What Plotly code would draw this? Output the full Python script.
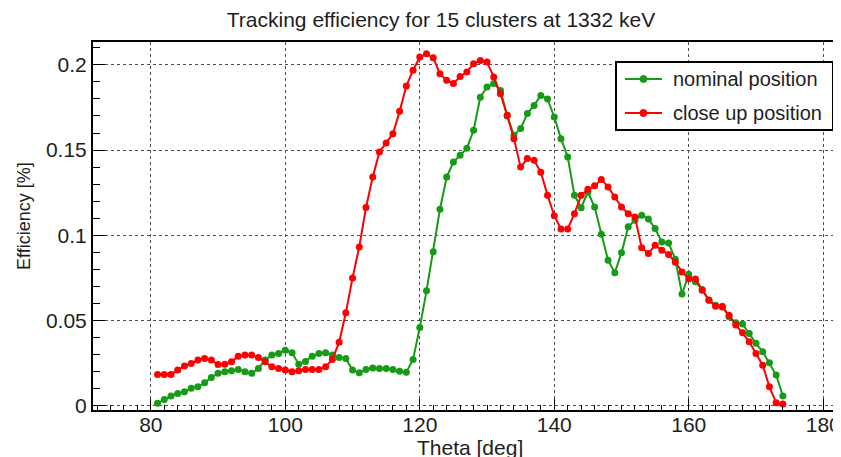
import plotly.graph_objects as go

theta = list(range(81, 175))

nominal = [
    0.0014, 0.0037, 0.0057, 0.0072, 0.0082, 0.0102, 0.0111, 0.0135, 0.0166, 0.0190,  # 81-90
    0.0200, 0.0205, 0.0213, 0.0200, 0.0190, 0.0219, 0.0268, 0.0297, 0.0307, 0.0326,  # 91-100
    0.0311, 0.0244, 0.0260, 0.0290, 0.0307, 0.0311, 0.0297, 0.0283, 0.0277, 0.0209,  # 101-110
    0.0193, 0.0213, 0.0222, 0.0219, 0.0219, 0.0213, 0.0203, 0.0197, 0.0272, 0.0459,  # 111-120
    0.0674, 0.0903, 0.1153, 0.1342, 0.1430, 0.1470, 0.1510, 0.1616, 0.1810, 0.1870,  # 121-130
    0.1890, 0.1850, 0.1700, 0.1587, 0.1626, 0.1714, 0.1762, 0.1820, 0.1800, 0.1694,  # 131-140
    0.1567, 0.1460, 0.1235, 0.1162, 0.1254, 0.1166, 0.1006, 0.0854, 0.0780, 0.0897,  # 141-150
    0.1050, 0.1088, 0.1118, 0.1095, 0.1040, 0.0960, 0.0955, 0.0860, 0.0655, 0.0772,  # 151-160
    0.0727, 0.0682, 0.0620, 0.0590, 0.0584, 0.0522, 0.0487, 0.0479, 0.0424, 0.0366,  # 161-170
    0.0317, 0.0252, 0.0180, 0.0057,                                                  # 171-174
]

close_up = [
    0.0184, 0.0184, 0.0184, 0.0210, 0.0233, 0.0248, 0.0268, 0.0277, 0.0268, 0.0242,  # 81-90
    0.0244, 0.0258, 0.0291, 0.0297, 0.0297, 0.0283, 0.0258, 0.0229, 0.0219, 0.0209,  # 91-100
    0.0199, 0.0205, 0.0213, 0.0213, 0.0213, 0.0229, 0.0272, 0.0372, 0.0545, 0.0750,  # 101-110
    0.0932, 0.1163, 0.1342, 0.1489, 0.1542, 0.1596, 0.1727, 0.1876, 0.1968, 0.2046,  # 111-120
    0.2065, 0.2042, 0.1948, 0.1909, 0.1890, 0.1932, 0.1958, 0.2007, 0.2026, 0.2016,  # 121-130
    0.1929, 0.1830, 0.1704, 0.1567, 0.1400, 0.1450, 0.1440, 0.1370, 0.1235, 0.1115,  # 131-140
    0.1037, 0.1037, 0.1127, 0.1235, 0.1270, 0.1290, 0.1328, 0.1284, 0.1225, 0.1166,  # 141-150
    0.1127, 0.1108, 0.0927, 0.0893, 0.0942, 0.0912, 0.0888, 0.0842, 0.0785, 0.0743,  # 151-160
    0.0743, 0.0678, 0.0619, 0.0584, 0.0580, 0.0531, 0.0473, 0.0428, 0.0375, 0.0307,  # 161-170
    0.0238, 0.0111, 0.0018, 0.0010,                                                  # 171-174
]

series_names = ["nominal position", "close up position"]
x_ticks = [80, 100, 120, 140, 160, 180]
y_ticks = [0, 0.05, 0.1, 0.15, 0.2]
y_tick_labels = ["0", "0.05", "0.1", "0.15", "0.2"]

GREEN = "rgb(22,155,22)"
RED = "rgb(255,0,0)"
TXT = "rgb(30,30,30)"
FONT = "Liberation Sans, Arial, Helvetica, sans-serif"

# The page body has an 8px margin; size the figure so the whole thing fits the 841x457 window.
FIG_W, FIG_H = 833, 449
OFF = 8
PLOT_L, PLOT_R, PLOT_T, PLOT_B = 93, 836, 42, 410   # plot frame in window pixels


def px(xw):
    return (xw - PLOT_L) / (PLOT_R - PLOT_L)


def py(yw):
    return (PLOT_B - yw) / (PLOT_B - PLOT_T)


fig = go.Figure()
for name, vals, col in [(series_names[0], nominal, GREEN), (series_names[1], close_up, RED)]:
    fig.add_trace(go.Scatter(
        x=theta, y=vals, mode="lines+markers", name=name,
        line=dict(color=col, width=2), marker=dict(size=7, color=col),
        showlegend=False,
    ))

axis_common = dict(
    showline=True, linecolor="black", linewidth=2, mirror=True,
    showgrid=True, gridcolor="rgb(80,80,80)", gridwidth=1, griddash="dot",
    zeroline=False, ticks="inside", tickcolor="black", tickwidth=1,
    tickfont=dict(family=FONT, size=21, color=TXT),
)

fig.update_xaxes(
    range=[71.4, 181.9], tickvals=x_ticks, ticklen=11, ticklabelstandoff=-5,
    minor=dict(dtick=2, tick0=80, ticks="inside", ticklen=5, tickcolor="black", showgrid=False),
    **axis_common,
)
fig.update_yaxes(
    range=[-0.0025, 0.2134], tickvals=y_ticks, ticktext=y_tick_labels, ticklen=12,
    minor=dict(dtick=0.01, tick0=0, ticks="inside", ticklen=7, tickcolor="black", showgrid=False),
    **axis_common,
)

fig.update_layout(
    width=FIG_W, height=FIG_H,
    margin=dict(l=PLOT_L - OFF, r=FIG_W + OFF - PLOT_R, t=PLOT_T - OFF, b=FIG_H + OFF - PLOT_B,
                autoexpand=False),
    paper_bgcolor="white", plot_bgcolor="white",
    font=dict(family=FONT, color=TXT),
    title=dict(
        text="Tracking efficiency for 15 clusters at 1332 keV",
        x=(441 - OFF) / FIG_W, xanchor="center", xref="container",
        y=1 - (20 - OFF) / FIG_H, yanchor="middle", yref="container",
        font=dict(family=FONT, size=21, color=TXT),
    ),
    showlegend=False,
)

# axis titles
fig.add_annotation(
    text="Theta [deg]", xref="paper", yref="paper",
    x=px(470), y=py(447), xanchor="center", yanchor="middle",
    showarrow=False, font=dict(family=FONT, size=21, color=TXT),
)
fig.add_annotation(
    text="Efficiency [%]", xref="paper", yref="paper",
    x=px(24), y=py(216), xanchor="center", yanchor="middle",
    textangle=-90, showarrow=False, font=dict(family=FONT, size=18, color=TXT),
)

# legend box (drawn like the ROOT TLegend)
fig.add_shape(type="rect", xref="paper", yref="paper",
              x0=px(616), x1=px(833), y0=py(130), y1=py(62),
              line=dict(color="black", width=2), fillcolor="white", layer="above")
for row_y, name, col in [(79, series_names[0], GREEN), (113, series_names[1], RED)]:
    fig.add_shape(type="line", xref="paper", yref="paper",
                  x0=px(625), x1=px(662), y0=py(row_y), y1=py(row_y),
                  line=dict(color=col, width=2), layer="above")
    fig.add_shape(type="circle", xref="paper", yref="paper",
                  xsizemode="pixel", ysizemode="pixel",
                  xanchor=px(643.5), yanchor=py(row_y),
                  x0=-3.5, x1=3.5, y0=-3.5, y1=3.5,
                  line=dict(color=col, width=1), fillcolor=col, layer="above")
    fig.add_annotation(
        text=name, xref="paper", yref="paper",
        x=px(671), y=py(row_y), xanchor="left", yanchor="middle",
        showarrow=False, font=dict(family=FONT, size=20, color=TXT),
    )

fig.write_html("out.html")
